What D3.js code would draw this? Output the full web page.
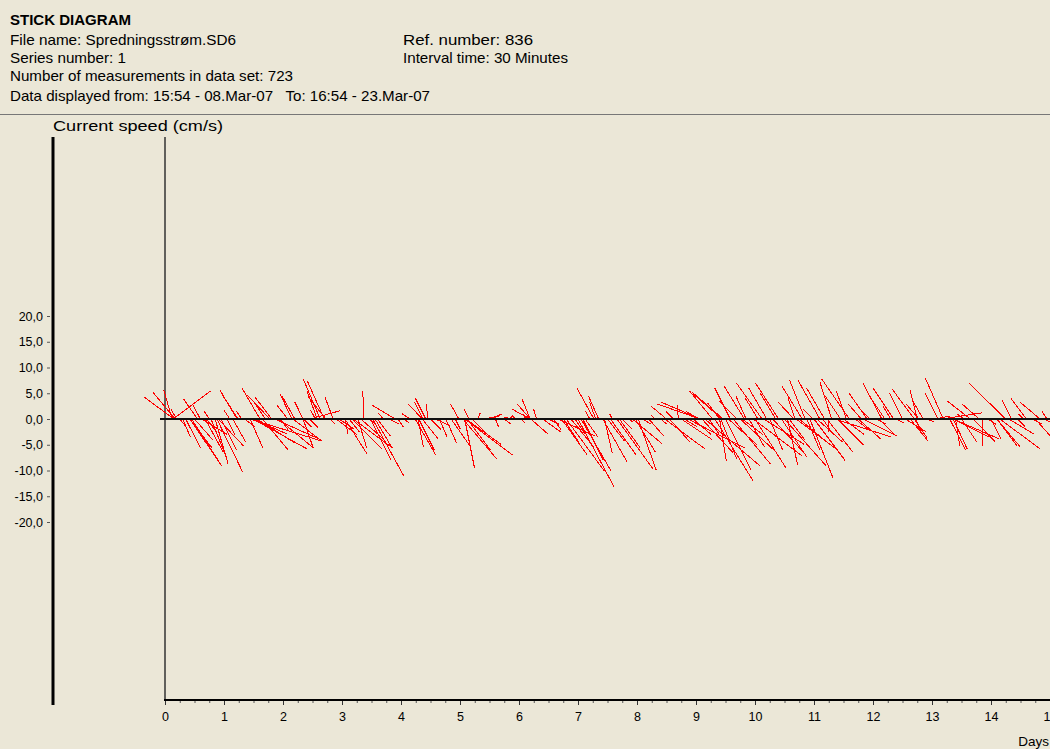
<!DOCTYPE html>
<html><head><meta charset="utf-8">
<script src="https://cdn.jsdelivr.net/npm/d3@7"></script>
<style>html,body{margin:0;padding:0;background:#ebe7d7;}svg{display:block;font-family:"Liberation Sans",Arial,sans-serif;}</style>
</head><body>
<script>
// ---- header texts ----
const title = "STICK DIAGRAM";
const infoLeft = ["File name: Spredningsstrøm.SD6", "Series number: 1", "Number of measurements in data set: 723", "Data displayed from: 15:54 - 08.Mar-07   To: 16:54 - 23.Mar-07"];
const infoRight = ["Ref. number: 836", "Interval time: 30 Minutes"];
const yAxisTitle = "Current speed (cm/s)";
const xAxisTitle = "Days";
const yTicks = [20, 15, 10, 5, 0, -5, -10, -15, -20];
const xTicks = [0,1,2,3,4,5,6,7,8,9,10,11,12,13,14,15];

// ---- stick data: time (days), u (east, cm/s), v (north, cm/s) ----
const times = [
0.15,0.17,0.12,0.14,0.20,0.25,0.35,0.42,0.42,0.45,0.50,0.55,0.60,0.62,0.68,0.70,0.75,0.85,0.88,0.90,0.95,
1.05,1.10,1.22,1.24,1.30,1.35,1.44,1.44,1.49,1.49,1.56,1.61,1.70,1.78,1.81,1.86,1.92,1.95,
2.08,2.15,2.17,2.20,2.34,2.34,2.35,2.45,2.46,2.55,2.63,2.70,2.73,2.80,2.85,2.95,
3.05,3.05,3.12,3.17,3.19,3.27,3.37,3.45,3.52,3.56,3.60,3.70,3.80,3.90,3.95,
4.05,4.15,4.24,4.29,4.36,4.36,4.37,4.45,4.50,4.58,4.65,4.76,4.85,4.92,4.98,
5.05,5.08,5.08,5.10,5.15,5.20,5.30,5.40,5.50,5.60,5.68,5.75,5.85,5.95,
6.05,6.12,6.19,6.19,6.19,6.20,6.30,6.40,6.50,6.58,6.66,6.75,6.80,6.88,6.95,
7.00,7.05,7.12,7.20,7.27,7.30,7.42,7.45,7.50,7.58,7.66,7.75,7.85,7.92,7.97,
8.02,8.10,8.20,8.30,8.40,8.47,8.55,8.62,8.70,8.80,8.86,8.95,
9.05,9.07,9.07,9.15,9.22,9.32,9.40,9.40,9.42,9.44,9.46,9.55,9.63,9.70,9.78,9.85,9.90,9.97,
10.05,10.12,10.15,10.25,10.35,10.45,10.50,10.58,10.66,10.68,10.75,10.80,10.88,10.93,10.98,
11.05,11.10,11.15,11.22,11.25,11.30,11.35,11.45,11.50,11.60,11.70,11.80,11.83,11.95,
12.05,12.15,12.20,12.30,12.40,12.50,12.63,12.70,12.70,12.72,12.75,12.78,12.90,
13.05,13.17,13.19,13.30,13.35,13.36,13.36,13.40,13.55,13.70,13.80,13.86,13.95,
14.10,14.10,14.15,14.25,14.35,14.45,14.55,14.70,14.83,14.90,14.95,
0.30,0.78,1.15,1.65,2.58,2.90,3.32,3.48,4.30,4.42,5.12,6.72,7.08,7.35,7.55,7.70,
8.50,8.75,9.10,9.28,9.50,9.58,9.75,9.82,10.00,10.20,10.30,10.40,10.55,10.70,10.85,11.00,
11.18,11.40,11.55,11.75,11.90,12.10,12.35,12.55,12.85,13.10,13.50,13.65,14.00,14.30,14.60,14.75];
const uVals = [
-5.8,-4.3,-1.6,7.2,-1.2,1.0,2.9,4.3,6.2,5.6,3.5,-2.7,-1.5,5.0,3.5,2.0,-1.0,2.5,5.0,4.9,3.0,
1.5,-1.2,-3.3,-3.1,-1.0,2.0,2.5,14.0,6.6,10.5,7.4,-3.5,-2.0,-4.5,-3.3,9.1,6.8,1.5,
-2.1,-2.3,5.6,-2.5,-1.6,1.9,1.5,1.6,5.8,-1.0,-3.3,-3.3,-3.5,1.0,-1.6,3.0,
0.6,4.3,2.0,5.8,7.6,1.7,-0.2,1.5,6.0,3.3,2.5,-1.0,2.0,-4.5,1.0,
1.0,-1.5,4.0,1.0,-2.7,3.1,-1.6,-0.2,2.0,2.9,1.5,2.1,3.5,1.0,-1.6,
6.6,1.9,9.3,6.8,-1.0,3.0,0.5,3.0,2.5,0.6,1.5,1.3,0.5,-0.8,
0.5,-0.6,-3.5,-2.5,-1.6,3.3,-0.6,3.5,2.0,1.5,7.2,3.0,7.4,4.5,2.0,
7.0,5.8,2.5,-0.8,-3.3,-1.2,4.7,1.5,3.3,-0.5,7.0,2.0,1.0,5.8,3.9,
3.5,1.5,2.9,-0.8,1.2,7.8,4.0,-1.5,-0.2,2.5,11.0,3.5,
-2.5,-8.3,-7.6,10.7,2.0,7.4,-2.3,1.3,3.1,-5.6,-6.0,5.5,7.2,-3.5,4.0,-2.0,3.0,9.5,
-2.5,-5.0,7.8,2.5,-3.0,5.0,8.0,3.0,-3.1,-1.4,6.0,-4.0,2.5,4.5,-2.0,
5.0,-4.3,2.0,5.0,0.0,-2.3,11.0,-3.0,4.0,-5.4,2.5,-2.5,6.6,-1.5,
2.0,-3.7,-3.0,-1.5,1.5,-2.5,3.5,-4.3,2.5,1.0,-1.4,-2.5,1.5,
3.0,7.8,-3.5,3.1,7.0,2.7,9.0,0.8,-1.5,4.3,-3.3,0.0,1.5,
4.5,3.9,7.8,-7.2,-1.9,1.5,-1.0,2.0,-3.9,1.5,-1.0,
1.5,3.0,2.5,5.0,-2.0,4.0,4.5,4.0,3.0,-2.0,4.5,5.0,4.0,-2.0,5.0,4.0,
-3.0,6.0,6.0,-4.5,5.0,-3.0,6.5,-4.0,6.0,-3.5,6.5,-4.5,2.0,8.0,-3.0,6.0,
-3.5,5.0,-2.0,4.5,-3.5,3.0,-4.0,4.0,-2.0,-2.5,3.0,-4.5,2.0,5.0,-3.0,4.0];
const vVals = [
4.3,5.2,5.6,5.4,2.0,-1.2,-5.6,-5.6,-9.1,-8.7,-4.0,3.9,2.8,-3.0,-6.4,-2.5,1.5,-8.7,-10.3,-5.2,-6.0,
-3.0,1.8,5.6,4.7,1.5,-1.5,-5.6,-4.3,-2.9,-5.8,-4.7,6.0,3.0,4.7,4.3,-4.1,-5.6,-2.0,
2.7,4.9,-4.3,4.5,3.3,-5.4,-1.5,-1.6,1.6,1.8,7.8,7.4,4.3,-1.0,4.3,-2.0,
-3.0,-6.8,-2.5,-5.8,-5.6,-5.6,5.4,-1.0,-11.0,-5.6,-3.3,1.2,-1.0,2.7,-1.5,
-0.8,1.0,-7.0,-5.4,2.9,-3.9,3.3,3.0,-2.0,-1.3,-3.5,-4.7,-5.0,-2.0,2.9,
-7.8,-9.5,-7.0,-4.9,2.0,-3.0,1.2,0.5,1.0,-1.5,0.4,-1.0,0.8,0.6,
-0.8,0.9,1.9,2.9,3.9,-2.9,1.9,-2.5,-1.0,-2.0,-3.3,-4.5,-10.1,-5.5,-3.0,
-13.2,-10.0,-3.5,1.5,6.0,3.3,-8.3,-6.7,-4.3,1.0,-9.7,-2.0,-0.6,-4.8,-6.4,
-9.9,-1.0,-3.3,0.8,-1.0,-5.8,-4.5,1.5,2.7,-1.5,-5.6,-3.0,
1.5,2.9,3.3,-9.1,-3.0,-12.0,3.1,-8.2,-7.8,4.9,5.2,-5.0,-8.7,3.5,-3.0,4.5,-5.5,-7.2,
4.1,7.0,-4.9,-6.0,5.0,-7.5,-9.0,-4.0,3.3,4.1,-5.0,6.5,-6.0,-11.5,2.0,
-4.5,7.6,-3.0,-6.4,-2.5,7.2,-3.5,4.5,-3.0,7.8,-2.0,2.9,-3.3,1.5,
-1.0,7.0,4.5,2.5,-0.8,5.0,-4.3,5.8,-3.7,-2.3,5.6,2.9,-0.5,
0.6,1.2,8.0,-6.0,-3.5,-5.8,-3.9,-5.2,1.0,-4.5,2.9,-5.2,-1.0,
-5.4,-5.2,-5.8,7.0,3.7,-1.5,1.0,-1.0,3.3,-0.8,1.5,
-3.5,-7.5,-4.5,-6.0,5.5,-3.0,-4.0,-8.0,-6.0,4.0,-6.0,-7.0,-8.0,4.5,-7.0,-5.5,
2.5,-4.0,-6.5,5.5,-10.0,6.0,-6.0,6.5,-9.5,6.0,-7.0,7.0,-9.0,-6.0,7.5,-8.0,
6.0,-5.0,5.5,-4.0,5.0,-3.0,6.0,-2.5,3.5,5.0,-4.5,3.5,-4.0,-3.0,4.0,-4.5];

const W = 1050, H = 749;
const svg = d3.select("body").append("svg").attr("width", W).attr("height", H);
svg.append("rect").attr("width", W).attr("height", H).attr("fill", "#ebe7d7");

// header (widths matched to the reference's wider system font)
const txt = (xp, yp, s, len, bold, fs) => svg.append("text").attr("x", xp).attr("y", yp)
  .attr("font-size", fs || 14.5).attr("font-weight", bold ? "bold" : "normal").attr("fill", "#000")
  .attr("textLength", len).attr("lengthAdjust", "spacingAndGlyphs")
  .style("white-space", "pre").text(s);
txt(10, 25, title, 121, true);
const lineY = [45, 63, 81, 101];
const leftLen = [226, 116, 283, 420];
infoLeft.forEach((t, i) => txt(10, lineY[i], t, leftLen[i], false));
const rightLen = [130, 165];
infoRight.forEach((t, i) => txt(403, lineY[i], t, rightLen[i], false));
svg.append("line").attr("x1", 0).attr("x2", W).attr("y1", 114.5).attr("y2", 114.5).attr("stroke", "#777").attr("stroke-width", 1);

// scales
const x = d3.scaleLinear().domain([0, 15]).range([165, 1050]);
const y = d3.scaleLinear().domain([-20, 20]).range([522, 316]);

// y axis title
txt(53, 131, yAxisTitle, 170, false, 14);

// left thick axis
svg.append("line").attr("x1", 53).attr("x2", 53).attr("y1", 137).attr("y2", 705).attr("stroke", "#000").attr("stroke-width", 3);
const yAxis = d3.axisLeft(y).tickValues(yTicks).tickSize(3).tickPadding(4)
  .tickFormat(d => d3.format(".1f")(d).replace(".", ",").replace("−", "-"));
const gy = svg.append("g").attr("transform", "translate(50,0)").call(yAxis);
gy.select(".domain").remove();
gy.selectAll("text").attr("font-size", 12.5).attr("fill", "#000").attr("font-family", "Liberation Sans, Arial, sans-serif");
gy.selectAll("line").attr("stroke", "#555");

// inner vertical axis
svg.append("line").attr("x1", 165).attr("x2", 165).attr("y1", 137).attr("y2", 701).attr("stroke", "#333").attr("stroke-width", 1.5);

// bottom axis
const minor = d3.range(0, 15.01, 0.25);
const gxm = svg.append("g").attr("transform", "translate(0,700)")
  .call(d3.axisBottom(x).tickValues(minor).tickSize(3).tickFormat(""));
gxm.select(".domain").remove();
gxm.selectAll("line").attr("stroke", "#555");
const gx = svg.append("g").attr("transform", "translate(0,700)")
  .call(d3.axisBottom(x).tickValues(xTicks).tickSize(5).tickPadding(7).tickFormat(d3.format("d")));
gx.select(".domain").remove();
gx.selectAll("line").attr("stroke", "#333");
gx.selectAll("text").attr("font-size", 12.5).attr("fill", "#000").attr("font-family", "Liberation Sans, Arial, sans-serif");
svg.append("line").attr("x1", 164).attr("x2", 1050).attr("y1", 700).attr("y2", 700).attr("stroke", "#000").attr("stroke-width", 2);
svg.append("text").attr("x", 1049).attr("y", 746).attr("text-anchor", "end").attr("font-size", 13.5).attr("fill", "#000").text(xAxisTitle);

// sticks
const y0 = y(0);
const sticks = times.map((t, i) => ({t, u: uVals[i], v: vVals[i]}));
svg.append("g").attr("shape-rendering", "crispEdges").selectAll("line").data(sticks).join("line")
  .attr("x1", d => x(d.t)).attr("y1", y0)
  .attr("x2", d => x(d.t) + (y0 - y(d.u))).attr("y2", d => y(d.v))
  .attr("stroke", "#ff0000").attr("stroke-width", 1);

// zero line
svg.append("line").attr("x1", 160).attr("x2", 1050).attr("y1", y0).attr("y2", y0).attr("stroke", "#111").attr("stroke-width", 2);
</script>
</body></html>
